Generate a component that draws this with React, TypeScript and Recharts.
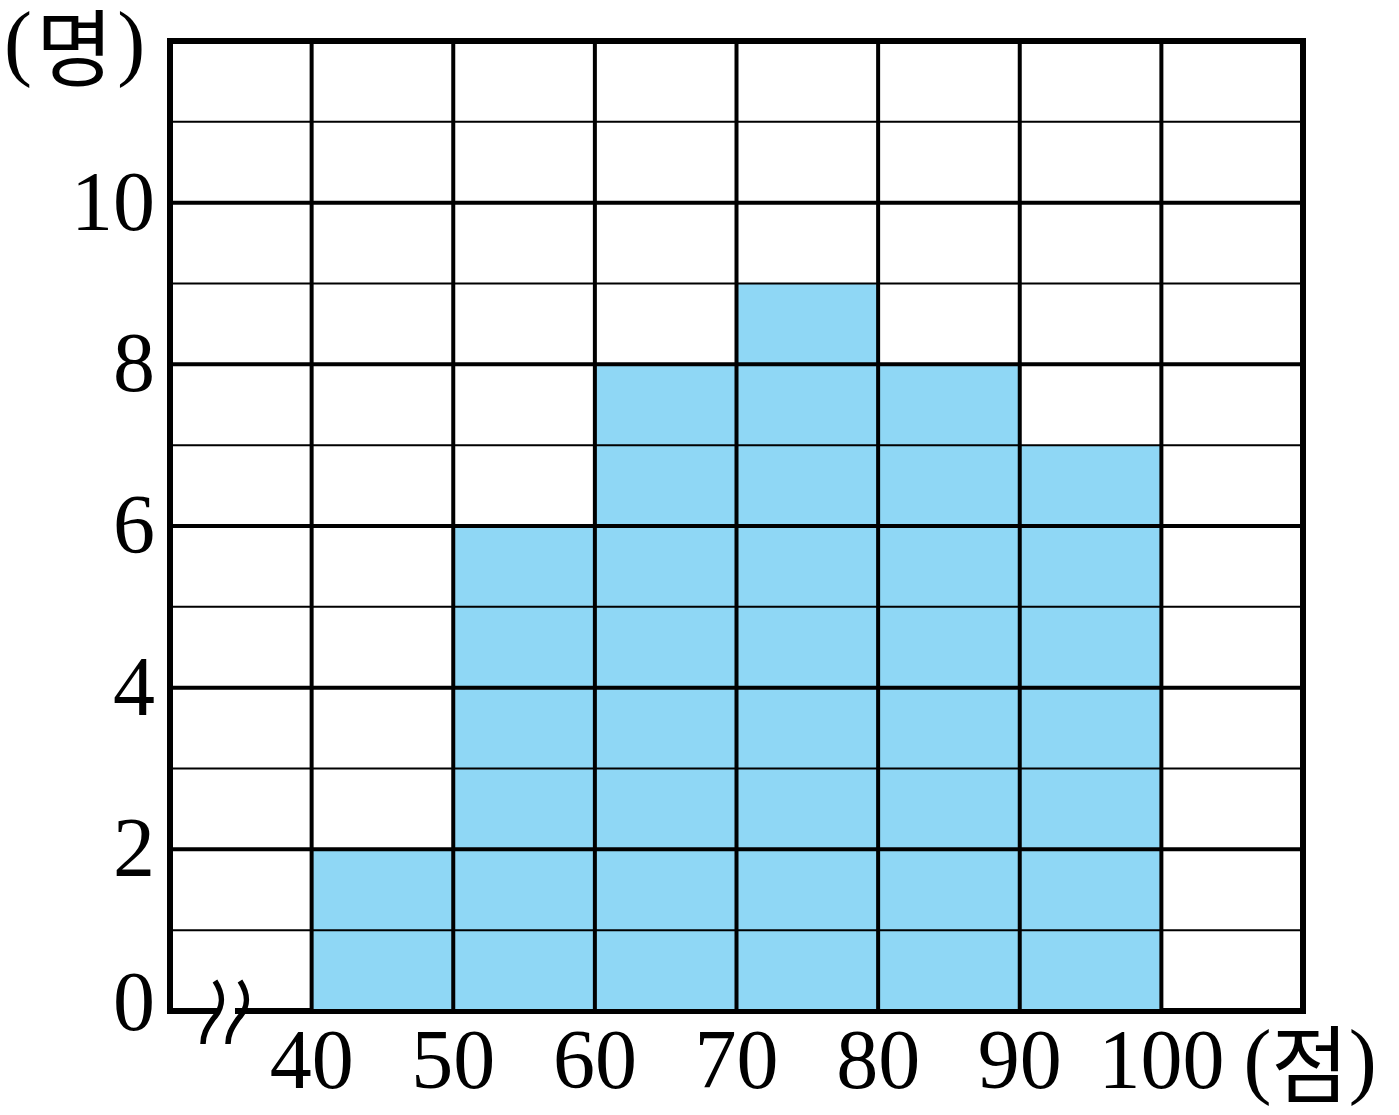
import { BarChart, Bar, XAxis, YAxis, ReferenceLine, ReferenceArea, ReferenceDot } from 'recharts';

const binStarts = [30, 40, 50, 60, 70, 80, 90, 100];
const counts = [0, 2, 6, 8, 9, 8, 7, 0];
const xTicks = [40, 50, 60, 70, 80, 90, 100];
const yTicks = [0, 2, 4, 6, 8, 10];
const minorY = [1, 3, 5, 7, 9, 11];

const data = binStarts.map((s, i) => ({ bin: `${s}-${s + 10}`, mid: s + 5, count: counts[i] }));

const FONT = "'Liberation Serif', 'Noto Sans CJK KR', serif";

const XTick = ({ x, y, payload }: any) => (
  <g>
    <text x={x} y={y + 45} textAnchor="middle" fontFamily={FONT} fontSize={84} fill="#000">
      {payload.value}
    </text>
    {payload.value === 100 && (
      <text x={x + 82} y={y + 45} textAnchor="start" fontFamily={FONT} fontSize={84} fill="#000">
        ({<tspan dy={8}>점</tspan>}<tspan dy={-8}>)</tspan>
      </text>
    )}
  </g>
);

const YTick = ({ x, y, payload }: any) => (
  <text x={x - 13} y={y + (payload.value === 0 ? 19 : 27)} textAnchor="end" fontFamily={FONT} fontSize={84} fill="#000">
    {payload.value}
  </text>
);

const YUnit = ({ viewBox }: any) => (
  <text x={viewBox.x + 4} y={viewBox.y + 29} textAnchor="start" fontFamily={FONT} fontSize={84} fill="#000" letterSpacing={4}>
    (<tspan dy={10}>명</tspan><tspan dy={-10}>)</tspan>
  </text>
);

// wavy break mark on the x axis
const BreakMark = ({ cx, cy }: any) => {
  const curve = (dx: number) =>
    `M${cx + dx - 6},${cy - 30} C${cx + dx + 3},${cy - 16} ${cx + dx + 3},${cy - 4} ${cx + dx - 8},${cy + 8} C${cx + dx - 15},${cy + 18} ${cx + dx - 18},${cy + 24} ${cx + dx - 18},${cy + 33}`;
  return (
    <g>
      <rect x={cx - 1} y={cy - 5} width={15} height={10} fill="#fff" />
      <path d={curve(0)} fill="none" stroke="#000" strokeWidth={5.5} />
      <path d={curve(25)} fill="none" stroke="#000" strokeWidth={5.5} />
    </g>
  );
};

export default function App() {
  return (
    <div style={{ position: 'absolute', left: 0, top: 0, background: '#fff' }}>
      <BarChart
        width={1399}
        height={1115}
        data={data}
        margin={{ top: 41, right: 96, bottom: 0, left: 0 }}
        barCategoryGap={0}
      >
        <XAxis xAxisId="cat" dataKey="bin" hide />
        <XAxis
          xAxisId="num"
          dataKey="mid"
          type="number"
          domain={[30, 110]}
          ticks={xTicks}
          allowDataOverflow
          axisLine={false}
          tickLine={false}
          tickSize={0}
          height={104}
          interval={0}
          tick={<XTick />}
        />
        <YAxis
          domain={[0, 12]}
          ticks={yTicks}
          allowDataOverflow
          width={170}
          axisLine={false}
          tickLine={false}
          tickSize={0}
          interval={0}
          tick={<YTick />}
          label={<YUnit />}
        />
        <Bar xAxisId="cat" dataKey="count" fill="#8FD7F5" isAnimationActive={false} />
        {minorY.map(v => (
          <ReferenceLine key={'m' + v} xAxisId="num" y={v} stroke="#000" strokeWidth={2} />
        ))}
        {yTicks.map(v => (
          <ReferenceLine key={'y' + v} xAxisId="num" y={v} stroke="#000" strokeWidth={4} />
        ))}
        {xTicks.map(v => (
          <ReferenceLine key={'x' + v} xAxisId="num" x={v} stroke="#000" strokeWidth={4} />
        ))}
        <ReferenceArea xAxisId="num" x1={30} x2={110} y1={0} y2={12} fill="none" fillOpacity={0} stroke="#000" strokeWidth={6} strokeOpacity={1} />
        <ReferenceDot xAxisId="num" x={33.6} y={0} r={1} ifOverflow="visible" shape={<BreakMark />} />
      </BarChart>
    </div>
  );
}
